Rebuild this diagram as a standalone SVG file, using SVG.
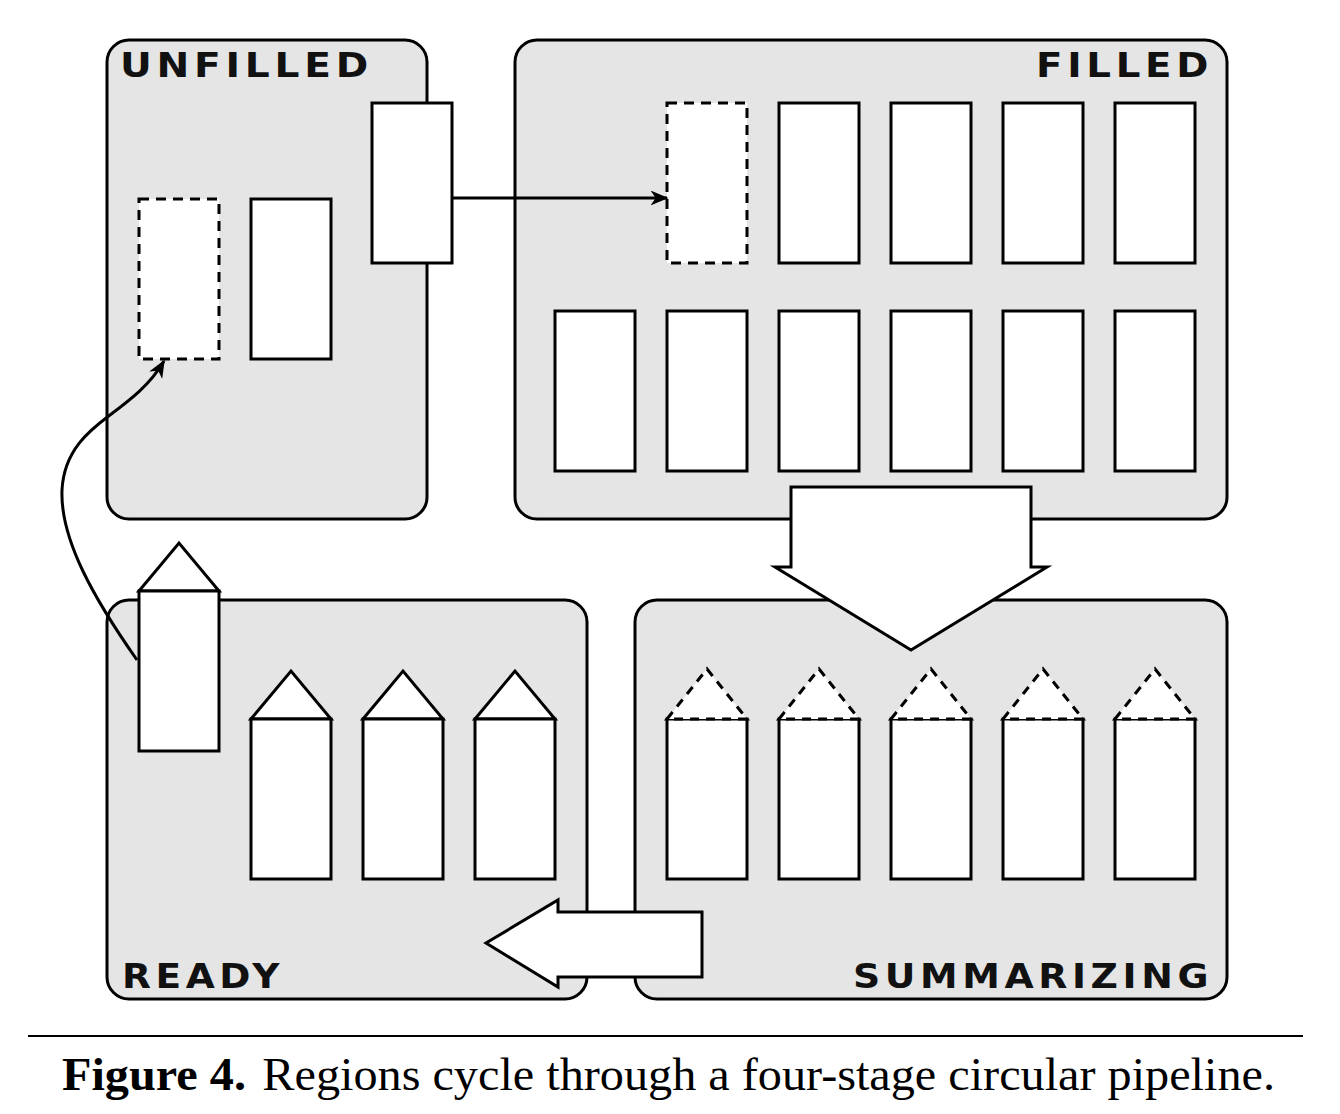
<svg xmlns="http://www.w3.org/2000/svg" width="1340" height="1114" viewBox="0 0 1340 1114">
<style>
.panel{fill:#e5e5e5;stroke:#000;stroke-width:3}
.box{fill:#fff;stroke:#000;stroke-width:3}
.dash{fill:#fff;stroke:#000;stroke-width:3;stroke-dasharray:10 7}
.tri{fill:#fff;stroke:#000;stroke-width:3;stroke-linejoin:miter}
.tridash{fill:#fff;stroke:#000;stroke-width:3;stroke-dasharray:9 7}
.lbl{font-family:"DejaVu Sans","Liberation Sans",sans-serif;font-weight:bold;font-size:33px;letter-spacing:4px;fill:#111}
.conn{fill:none;stroke:#000;stroke-width:3}
.big{fill:#fff;stroke:#000;stroke-width:3;stroke-linejoin:miter}
</style>
<defs>
<marker id="ah" viewBox="0 0 12 10" refX="11" refY="5" markerWidth="6" markerHeight="5" orient="auto" markerUnits="strokeWidth">
<path d="M0,0 L12,5 L0,10 L3.5,5 Z" fill="#000"/>
</marker>
</defs>
<rect width="1340" height="1114" fill="#fff"/>

<g id="panel-unfilled">
<rect class="panel" x="107" y="40" width="320" height="479" rx="22"/>
<text class="lbl" x="120" y="77" textLength="253" lengthAdjust="spacingAndGlyphs">UNFILLED</text>
<rect class="dash" x="139" y="199" width="80" height="160"/>
<rect class="box" x="251" y="199" width="80" height="160"/>
</g>
<g id="panel-filled">
<rect class="panel" x="515" y="40" width="712" height="479" rx="22"/>
<text class="lbl" x="1213" y="77" text-anchor="end" textLength="177" lengthAdjust="spacingAndGlyphs">FILLED</text>
<rect class="dash" x="667" y="103" width="80" height="160"/>
<rect class="box" x="779" y="103" width="80" height="160"/>
<rect class="box" x="891" y="103" width="80" height="160"/>
<rect class="box" x="1003" y="103" width="80" height="160"/>
<rect class="box" x="1115" y="103" width="80" height="160"/>
<rect class="box" x="555" y="311" width="80" height="160"/>
<rect class="box" x="667" y="311" width="80" height="160"/>
<rect class="box" x="779" y="311" width="80" height="160"/>
<rect class="box" x="891" y="311" width="80" height="160"/>
<rect class="box" x="1003" y="311" width="80" height="160"/>
<rect class="box" x="1115" y="311" width="80" height="160"/>
</g>
<g id="panel-ready">
<rect class="panel" x="107" y="600" width="480" height="399" rx="22"/>
<text class="lbl" x="122" y="988" textLength="162" lengthAdjust="spacingAndGlyphs">READY</text>
<polygon class="tri" points="251,719 291,671 331,719"/>
<rect class="box" x="251" y="719" width="80" height="160"/>
<polygon class="tri" points="363,719 403,671 443,719"/>
<rect class="box" x="363" y="719" width="80" height="160"/>
<polygon class="tri" points="475,719 515,671 555,719"/>
<rect class="box" x="475" y="719" width="80" height="160"/>
</g>
<g id="panel-summarizing">
<rect class="panel" x="635" y="600" width="592" height="399" rx="22"/>
<text class="lbl" x="1213" y="988" text-anchor="end" textLength="360" lengthAdjust="spacingAndGlyphs">SUMMARIZING</text>
<rect class="box" x="667" y="719" width="80" height="160"/>
<polygon class="tridash" points="667,719 707,669 747,719"/>
<rect class="box" x="779" y="719" width="80" height="160"/>
<polygon class="tridash" points="779,719 819,669 859,719"/>
<rect class="box" x="891" y="719" width="80" height="160"/>
<polygon class="tridash" points="891,719 931,669 971,719"/>
<rect class="box" x="1003" y="719" width="80" height="160"/>
<polygon class="tridash" points="1003,719 1043,669 1083,719"/>
<rect class="box" x="1115" y="719" width="80" height="160"/>
<polygon class="tridash" points="1115,719 1155,669 1195,719"/>
</g>

<g id="moving-unfilled-to-filled">
<rect class="box" x="372" y="103" width="80" height="160"/>
</g>
<g id="moving-ready-to-unfilled">
<polygon class="tri" points="139,591 179,543 219,591"/>
<rect class="box" x="139" y="591" width="80" height="160"/>
</g>

<g id="connectors">
<line class="conn" x1="452" y1="198" x2="667" y2="198" marker-end="url(#ah)"/>
<path class="conn" d="M137,660 C95,600 60,540 62,490 C64,450 90,430 110,415 C130,400 150,385 164,361" marker-end="url(#ah)"/>
<polygon class="big" points="791,487 1031,487 1031,567 1047,567 911,650 775,567 791,567"/>
<polygon class="big" points="702,912 702,977 558,977 558,987 486,943 558,900 558,912"/>
</g>

<g id="caption">
<line x1="28" y1="1036" x2="1303" y2="1036" stroke="#000" stroke-width="2"/>
<text x="62" y="1090" font-family="Liberation Serif,serif" font-size="47" fill="#000" textLength="1213" lengthAdjust="spacingAndGlyphs"><tspan font-weight="bold">Figure 4.</tspan><tspan dx="16">Regions cycle through a four-stage circular pipeline.</tspan></text>
</g>
</svg>
